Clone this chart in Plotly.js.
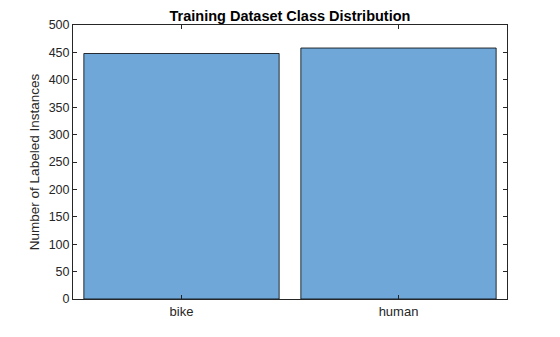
<!DOCTYPE html>
<html>
<head>
<meta charset="utf-8">
<script src="https://cdn.plot.ly/plotly-3.0.1.min.js"></script>
<style>html,body{margin:0;padding:0;background:#fff}#chart{width:560px;height:337px}</style>
</head>
<body>
<div id="chart"></div>
<script>
const categories = ["bike", "human"];
const counts = [448, 458];
const yTicks = [0, 50, 100, 150, 200, 250, 300, 350, 400, 450, 500];

const trace = {
  type: "bar",
  x: categories,
  y: counts,
  marker: { color: "#6fa8d8", line: { color: "#000000", width: 0.8 } },
  hoverinfo: "x+y"
};

const layout = {
  width: 560, height: 337,
  margin: { l: 73, r: 53, t: 25, b: 38 },
  paper_bgcolor: "#ffffff", plot_bgcolor: "#ffffff",
  bargap: 0.1,
  showlegend: false,
  font: { family: "Arial, 'Liberation Sans', sans-serif", color: "#262626", size: 12 },
  title: {
    text: "<b>Training Dataset Class Distribution</b>",
    font: { size: 14.5, color: "#000000", family: "Arial, 'Liberation Sans', sans-serif" },
    x: 0.5, xref: "paper", xanchor: "center",
    y: 1, yref: "paper", yanchor: "bottom", pad: { b: 4 }
  },
  xaxis: {
    type: "category",
    range: [-0.5, 1.5],
    showline: true, linecolor: "#262626", linewidth: 1, mirror: "ticks",
    ticks: "inside", ticklen: 4, tickcolor: "#262626",
    showgrid: false, zeroline: false,
    tickfont: { size: 13, color: "#262626" }
  },
  yaxis: {
    range: [0, 500],
    tickvals: yTicks,
    showline: true, linecolor: "#262626", linewidth: 1, mirror: "ticks",
    ticks: "inside", ticklen: 4, tickcolor: "#262626",
    showgrid: false, zeroline: false,
    tickfont: { size: 12.5, color: "#262626" },
    title: { text: "Number of Labeled Instances", font: { size: 13.5, color: "#262626" }, standoff: 5 }
  }
};

Plotly.newPlot("chart", [trace], layout, { displayModeBar: false, staticPlot: true });
</script>
</body>
</html>
